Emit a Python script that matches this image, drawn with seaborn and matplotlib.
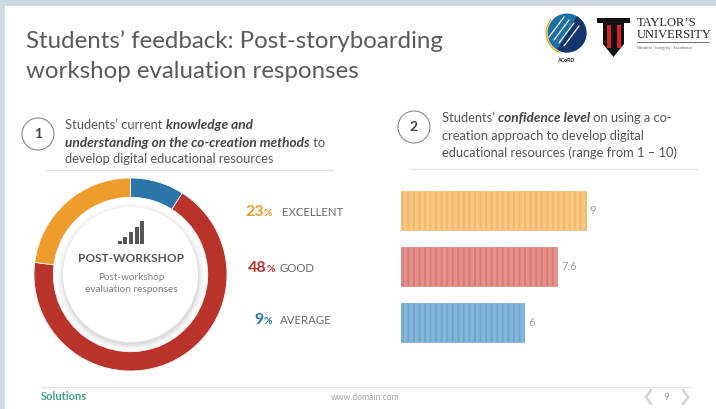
import matplotlib
matplotlib.use("Agg")
import matplotlib.pyplot as plt
import seaborn as sns
import pandas as pd
from matplotlib.patches import Circle, Rectangle, Polygon, Wedge

W, H = 716, 409

# donut shares as drawn, and the percentages printed beside it
ring_names = ["AVERAGE", "GOOD", "EXCELLENT"]
ring_shares = [9, 68, 23]
ring_colors = ["#2b75a8", "#b9332b", "#ee9c2c"]
label_names = ["EXCELLENT", "GOOD", "AVERAGE"]
label_pcts = [23, 48, 9]
label_colors = ["#ee9c2c", "#b9332b", "#2b75a8"]

# confidence level bars
bar_names = ["Excellent", "Good", "Average"]
bar_values = [9, 7.6, 6]
bar_fills = ["#f8c782", "#e78f89", "#82b7dc"]
bar_stripes = ["#f0b971", "#d47f7a", "#73a6ca"]

sns.set_theme(style="white")
plt.rcParams["font.family"] = ["Lato", "DejaVu Sans"]
plt.rcParams["hatch.linewidth"] = 1.4


def box(x0, y0, x1, y1):
    # pixel box (top-left origin) to figure fraction
    return [x0 / W, 1 - y1 / H, (x1 - x0) / W, (y1 - y0) / H]


fig = plt.figure(figsize=(W / 100, H / 100), dpi=100, facecolor="#ccd8df")
fig.add_artist(Rectangle((5 / W, 0), 1, 1 - 6 / H, transform=fig.transFigure, color="white", zorder=-5))

# donut
ax_ring = fig.add_axes(box(34, 178, 227, 371))
ax_ring.pie(ring_shares, colors=ring_colors, startangle=90, counterclock=False, radius=1,
            wedgeprops=dict(width=0.2, edgecolor="#f4f4f4", linewidth=0.6))
ax_ring.set_xlim(-1, 1)
ax_ring.set_ylim(-1, 1)
for r, a in zip([0.77, 0.755, 0.74, 0.725, 0.71], [0.015, 0.025, 0.035, 0.05, 0.07]):
    ax_ring.add_patch(Circle((0.005, -0.025), r, color="#555555", alpha=a, lw=0))
ax_ring.add_patch(Circle((0, 0), 0.70, color="white", lw=0))

# bars
df = pd.DataFrame({"group": bar_names, "value": bar_values})
ax_bar = fig.add_axes(box(401, 182.5, 401 + 20.5 * 10, 350.5))
sns.barplot(data=df, y="group", x="value", hue="group", palette=bar_fills, legend=False, width=0.696,
            saturation=1, ax=ax_bar)
for patch, stripe in zip(ax_bar.patches, bar_stripes):
    patch.set_hatch("|||")
    patch.set_edgecolor(stripe)
    patch.set_linewidth(0.5)
for container in ax_bar.containers:
    ax_bar.bar_label(container, fmt="%g", padding=3, fontsize=8, color="#9a9a9a")
ax_bar.set_xlim(0, 10)
ax_bar.set_ylim(2.5, -0.5)
ax_bar.axis("off")

# everything else is drawn in pixel coordinates on a clear overlay
page = fig.add_axes([0, 0, 1, 1], zorder=10)
page.set_xlim(0, W)
page.set_ylim(H, 0)
page.axis("off")

dark = "#5a5a5a"
page.text(26, 41, "Students\u2019 feedback: Post-storyboarding", fontsize=17.3, color=dark, va="center")
page.text(26, 71, "workshop evaluation responses", fontsize=17.3, color=dark, va="center")

for cx, cy, num in [(38, 134, "1"), (414, 127, "2")]:
    page.add_patch(Circle((cx, cy), 16, fc="white", ec="#8a8a8a", lw=0.8))
    page.text(cx, cy, num, fontsize=10, fontweight="bold", color="#444444", ha="center", va="center")

body = dict(fontsize=9.3, color="#555555", va="center")
bold = dict(fontsize=9.8, color="#444444", va="center", style="italic", fontweight="bold")

t = page.text(65, 125, "Students\u2019 current ", **body)
page.annotate("knowledge and", xy=(1, 0.5), xycoords=t, va="center", ha="left", fontsize=9.8, color="#444444",
              style="italic", fontweight="bold")
t = page.text(65, 143, "understanding on the co-creation methods", **bold)
page.annotate(" to", xy=(1, 0.5), xycoords=t, va="center", ha="left", fontsize=9.3, color="#555555")
page.text(65, 159, "develop digital educational resources", **body)

t = page.text(442, 118, "Students\u2019 ", **body)
t = page.annotate("confidence level", xy=(1, 0.5), xycoords=t, va="center", ha="left", fontsize=9.8, color="#444444",
                  style="italic", fontweight="bold")
page.annotate(" on using a co-", xy=(1, 0.5), xycoords=t, va="center", ha="left", fontsize=9.3, color="#555555")
page.text(442, 136, "creation approach to develop digital", **body)
page.text(442, 153, "educational resources (range from 1 \u2013 10)", **body)

page.plot([45, 333], [170, 170], color="#e2e2e2", lw=0.9)
page.plot([410, 698], [169, 169], color="#e2e2e2", lw=0.9)

# centre of the donut
for i, h in enumerate([3, 7, 12, 17, 23]):
    page.add_patch(Rectangle((117.5 + i * 5.7, 244 - h), 4, h, color="#555555", lw=0))
page.text(131, 259, "POST-WORKSHOP", fontsize=8.6, fontweight="bold", color="#555555", ha="center", va="center")
page.text(131, 278, "Post-workshop", fontsize=7.1, color="#808080", ha="center", va="center")
page.text(131, 290, "evaluation responses", fontsize=7.2, color="#808080", ha="center", va="center")

# percent labels
pct_right = [263.5, 266, 263.5]
name_left = [282, 280, 280]
for name, pct, col, y, xr, xn in zip(label_names, label_pcts, label_colors, [212, 268, 320], pct_right, name_left):
    page.text(xr, y, f"{pct}", fontsize=11.5, fontweight="bold", color=col, ha="right", va="center")
    page.text(xr + 0.5, y + 1, "%", fontsize=7.5, fontweight="bold", color=col, ha="left", va="center")
    page.text(xn, y, name, fontsize=8.2, color="#6a6a6a", va="center")

# footer
page.plot([41, 692], [387, 387], color="#e6e6e6", lw=0.9)
page.text(41, 397, "Solutions", fontsize=8, fontweight="bold", color="#3fa58a", va="center")
page.text(365, 398, "www.domain.com", fontsize=6.2, color="#a5a5a5", ha="center", va="center")
page.text(666, 397, "9", fontsize=7, color="#a0a0a0", ha="center", va="center")
page.plot([651, 646, 651], [390, 397, 404], color="#d4d4d4", lw=1.8)
page.plot([683, 688, 683], [390, 397, 404], color="#d4d4d4", lw=1.8)

# logos
page.add_patch(Circle((567, 33), 19.5, color="#1d6fa8", lw=0))
page.add_patch(Wedge((567, 33), 19.5, -60, 120, color="#12356e", lw=0))
for d in [-10, -5, 0, 5]:
    page.plot([559 + d, 574 + d], [43 + d * 0.6, 23 + d * 0.6], color="white", lw=0.9)
page.add_patch(Wedge((567, 33), 21.5, 110, 220, width=1.5, color="#edb21f", lw=0))
page.text(566, 61, "ACoRD", fontsize=3.8, fontweight="bold", color="#222222", ha="center", va="center")

page.add_patch(Polygon([(597, 18), (630, 18), (630, 23), (597, 23)], color="#111111", lw=0))
page.add_patch(Polygon([(603, 23), (624, 23), (624, 44), (613.5, 57), (603, 44)], color="#111111", lw=0))
page.add_patch(Rectangle((606.5, 25), 4, 23, color="#d3202a", lw=0))
page.add_patch(Rectangle((616.5, 25), 4, 23, color="#d3202a", lw=0))
serif = "Liberation Serif"
page.text(637, 23, "TAYLOR\u2019S", fontsize=9, family=serif, color="#222222", va="center")
page.text(637, 35, "UNIVERSITY", fontsize=9, family=serif, color="#222222", va="center")
page.plot([637, 709], [42, 42], color="#333333", lw=0.5)
page.text(637, 47.5, "Wisdom \u00b7 Integrity \u00b7 Excellence", fontsize=3, color="#666666", va="center")

fig.savefig("out.png", dpi=100, facecolor=fig.get_facecolor())
